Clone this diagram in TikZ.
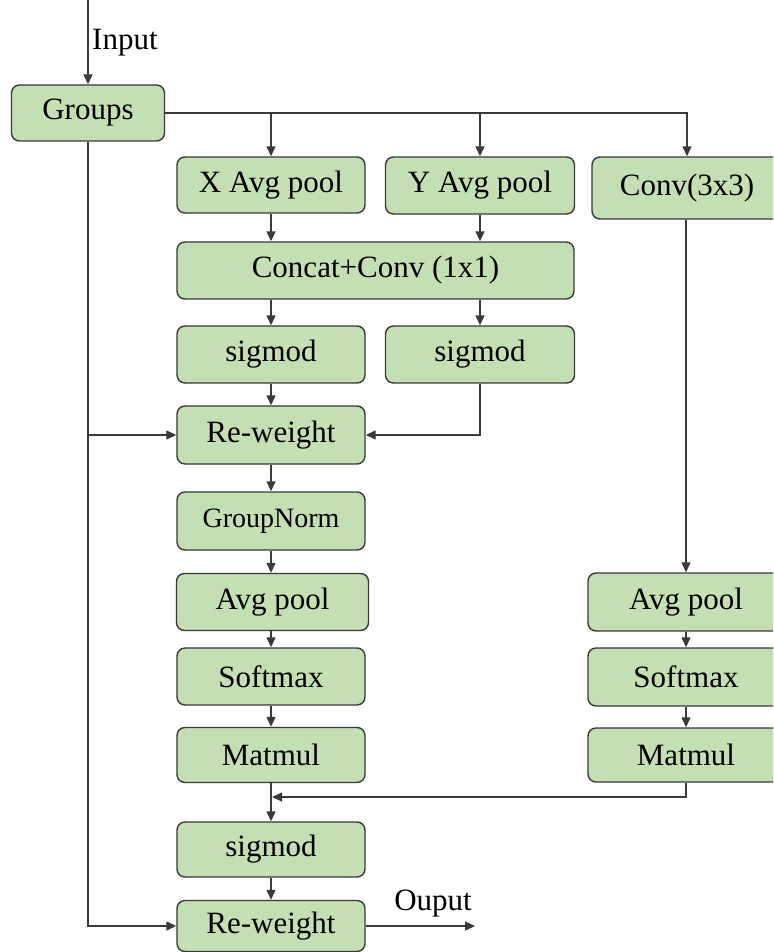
\documentclass[tikz,border=0pt]{standalone}
\usepackage{fontspec}
\setmainfont{Liberation Serif}
\usetikzlibrary{arrows.meta}
\definecolor{boxfill}{HTML}{C5DFB4}
\definecolor{boxline}{HTML}{383838}
\definecolor{wire}{HTML}{3A3A3A}
\tikzset{
  blk/.style={draw=boxline, fill=boxfill, line width=1.4pt, rounded corners=8pt,
    inner sep=0pt, minimum width=188pt, minimum height=57pt,
    font=\fontsize{31}{37}\selectfont},
  wirestyle/.style={draw=wire, line width=1.3pt},
  arr/.style={wirestyle, -{Triangle[length=10pt,width=9pt]}},
  lbl/.style={inner sep=0pt, font=\fontsize{31}{37}\selectfont}
}
\begin{document}
\begin{tikzpicture}[x=1pt,y=-1pt]
\useasboundingbox (0,0) rectangle (773,952);
\clip (0,0) rectangle (773,952);
% nodes
\node[blk, minimum width=153pt, minimum height=56pt] (groups) at (88,113) {Groups};
\node[blk, minimum height=56pt] (xavg) at (271,185) {X Avg pool};
\node[blk, minimum width=189pt] (yavg) at (480,185.5) {Y Avg pool};
\node[blk, minimum width=190pt, minimum height=62pt] (conv) at (687,188) {Conv(3x3)};
\node[blk, minimum width=397pt] (concat) at (375.5,270.5) {Concat+Conv (1x1)};
\node[blk] (sigA) at (271,354.5) {sigmod};
\node[blk, minimum width=189pt] (sigB) at (480,354.5) {sigmod};
\node[blk, minimum height=58pt] (rwA) at (271,435) {Re-weight};
\node[blk, minimum height=58pt, font=\fontsize{28}{33}\selectfont] (gn) at (271,521) {GroupNorm};
\node[blk, minimum width=192pt] (avgA) at (272.5,602) {Avg pool};
\node[blk] (softA) at (271,676.5) {Softmax};
\node[blk, minimum height=55pt] (matA) at (271,755) {Matmul};
\node[blk, minimum height=55pt] (sigC) at (271,849.5) {sigmod};
\node[blk, minimum height=51pt] (rwB) at (271,926) {Re-weight};
\node[blk, minimum width=196pt, minimum height=58pt] (avgB) at (686,602) {Avg pool};
\node[blk, minimum width=196pt, minimum height=58pt] (softB) at (686,677) {Softmax};
\node[blk, minimum width=196pt, minimum height=54pt] (matB) at (686,755) {Matmul};
% labels and free ends
\coordinate (inp) at (88,0);
\coordinate (join) at (272,797);
\coordinate (outp) at (475,926);
\node[lbl, anchor=west] (inlbl) at (92,43) {Input};
\node[lbl] (outlbl) at (433,904) {Ouput};
% connectors
\draw[arr] (inp) -- (groups.north);
\draw[arr] (groups.east) -| (conv.north);
\draw[arr] (xavg.north |- groups.east) -- (xavg.north);
\draw[arr] (yavg.north |- groups.east) -- (yavg.north);
\draw[arr] (xavg.south) -- (xavg.south |- concat.north);
\draw[arr] (yavg.south) -- (yavg.south |- concat.north);
\draw[arr] (sigA.north |- concat.south) -- (sigA.north);
\draw[arr] (sigB.north |- concat.south) -- (sigB.north);
\draw[arr] (sigA.south) -- (rwA.north);
\draw[arr] (sigB.south) |- (rwA.east);
\draw[arr] (groups.south) |- (rwB.west);
\draw[arr] (groups.south |- rwA.west) -- (rwA.west);
\draw[arr] (rwA.south) -- (gn.north);
\draw[arr] (gn.south) -- (gn.south |- avgA.north);
\draw[arr] (avgA.south -| softA.north) -- (softA.north);
\draw[arr] (softA.south) -- (matA.north);
\draw[arr] (matA.south) -- (sigC.north);
\draw[arr] (sigC.south) -- (rwB.north);
\draw[arr] (conv.south -| avgB.north) -- (avgB.north);
\draw[arr] (avgB.south) -- (softB.north);
\draw[arr] (softB.south) -- (matB.north);
\draw[arr] (matB.south) |- (join);
\draw[arr] (rwB.east) -- (outp);
\end{tikzpicture}
\end{document}
